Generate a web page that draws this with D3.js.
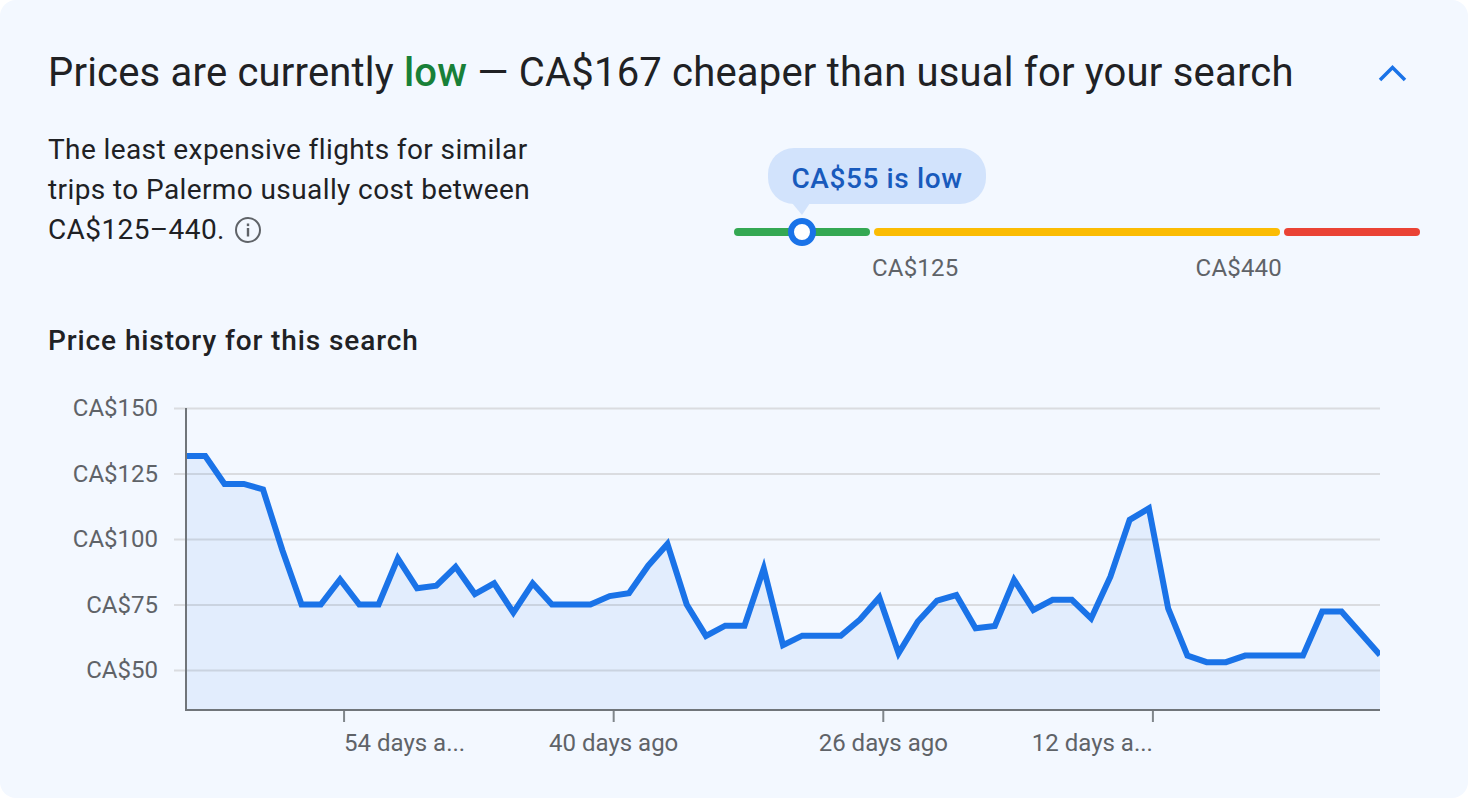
<!doctype html>
<html lang="en">
<head>
  <meta charset="utf-8">
  <title>Price history for this search</title>
  <style>
    html, body { margin:0; padding:0; background:#fff; }
    svg { display:block; }
    text { font-family: Roboto, sans-serif; }
    .axis text { font-size:24px; fill:#5f6368; }
    .axis path { display:none; }
  </style>
</head>
<body>
<div id="chart"></div>
<script src="https://cdn.jsdelivr.net/npm/d3@7"></script>
<script>
// days ago, one point per day
var days = d3.range(62, -1, -1);
var prices = [131.7,131.7,121,121,118.9,95.8,75,75,84.6,75,75,92.6,81.2,82.2,89.4,79,83.1,71.9,83.1,75,75,75,
  78.2,79.3,89.8,98.1,75,63,66.9,66.9,88.8,59.5,63.1,63.1,63.1,69.3,77.7,56.4,68.5,76.5,78.6,65.9,66.8,
  84.4,72.9,76.8,76.8,69.7,85.6,107.3,111.7,73.5,55.5,53,53,55.5,55.5,55.5,55.5,72.3,72.3,64,55.7];
var yTicks = [50,75,100,125,150];
var xTicks = [54,40,26,12];
var xTickLabels = ["54 days a...","40 days ago","26 days ago","12 days a..."];

// range bar
var rangeStops = [-15,125,440,580];
var rangeColors = ["#34a853","#fbbc04","#ea4335"];
var rangeLabels = [125,440];
var currentPrice = 55;

var width = 1468, height = 798;
var svg = d3.select("#chart").append("svg").attr("width",width).attr("height",height);

svg.append("rect").attr("width",width).attr("height",height).attr("rx",16).attr("fill","#f3f8ff");

// header
var title = svg.append("text").attr("x",48).attr("y",86).attr("font-size",40)
  .attr("letter-spacing",0.19).attr("fill","#202124");
title.append("tspan").text("Prices are currently ");
title.append("tspan").attr("fill","#188038").attr("font-weight",500).text("low");
title.append("tspan").text(" \u2014 CA$167 cheaper than usual for your search");

svg.append("path").attr("d","M1380 80 L1392.5 67.5 L1405 80").attr("fill","none")
  .attr("stroke","#1a73e8").attr("stroke-width",3.5);

var intro = ["The least expensive flights for similar","trips to Palermo usually cost between","CA$125\u2013440."];
svg.selectAll("text.intro").data(intro).join("text").attr("class","intro")
  .attr("x",48).attr("y",function(d,i){ return 159 + i*40; })
  .attr("font-size",28).attr("letter-spacing",0.4).attr("fill","#202124").text(function(d){ return d; });

// info icon
var info = svg.append("g").attr("transform","translate(248,230)");
info.append("circle").attr("r",12).attr("fill","none").attr("stroke","#5f6368").attr("stroke-width",2);
info.append("rect").attr("x",-1.2).attr("y",-2).attr("width",2.4).attr("height",8.5).attr("fill","#5f6368");
info.append("rect").attr("x",-1.2).attr("y",-6.5).attr("width",2.4).attr("height",2.6).attr("fill","#5f6368");

// range bar
var xRange = d3.scaleLinear().domain(rangeStops).range([732,872,1282,1422]);
svg.selectAll("rect.band").data(rangeColors).join("rect").attr("class","band")
  .attr("x",function(d,i){ return xRange(rangeStops[i]) + 2; })
  .attr("width",function(d,i){ return xRange(rangeStops[i+1]) - xRange(rangeStops[i]) - 4; })
  .attr("y",228).attr("height",8).attr("rx",4).attr("fill",function(d){ return d; });

svg.selectAll("text.band-label").data(rangeLabels).join("text").attr("class","band-label")
  .attr("x",function(d,i){ return xRange(d); }).attr("y",276)
  .attr("text-anchor",function(d,i){ return i == 0 ? "start" : "end"; })
  .attr("font-size",24).attr("letter-spacing",0.2).attr("fill","#5f6368").text(function(d){ return "CA$" + d; });

var px = xRange(currentPrice);
svg.append("path").attr("fill","#d2e3fc")
  .attr("d","M"+(px-10)+" 203 L"+px+" 215 L"+(px+8)+" 203 Z");
svg.append("rect").attr("x",768).attr("y",148).attr("width",218).attr("height",56).attr("rx",26).attr("fill","#d2e3fc");
svg.append("text").attr("x",877).attr("y",188).attr("text-anchor","middle")
  .attr("font-size",28).attr("letter-spacing",0.6).attr("font-weight",500).attr("fill","#185abc").text("CA$" + currentPrice + " is low");
svg.append("circle").attr("cx",px).attr("cy",232).attr("r",11).attr("fill","#fff")
  .attr("stroke","#1a73e8").attr("stroke-width",6);

svg.append("text").attr("x",48).attr("y",350).attr("font-size",28).attr("letter-spacing",0.9).attr("font-weight",500)
  .attr("fill","#202124").text("Price history for this search");

// price history chart
var left = 186, right = 1380, top_ = 408, bottom = 710;
var x = d3.scaleLinear().domain([62,0]).range([left,right]);
var y = d3.scaleLinear().domain([150,50]).range([top_,670]);
var tickShift = 3.5;

var yAxis = svg.append("g").attr("class","axis").attr("transform","translate("+left+",0)")
  .call(d3.axisLeft(y).tickValues(yTicks).tickFormat(function(d){ return "CA$" + d; }).tickPadding(22));
yAxis.selectAll("line").attr("x1",-12).attr("x2",right-left).attr("stroke","#dadce0").attr("stroke-width",2);

var xAxis = svg.append("g").attr("class","axis").attr("transform","translate("+tickShift+","+bottom+")")
  .call(d3.axisBottom(x).tickValues(xTicks).tickFormat(function(d,i){ return xTickLabels[i]; }).tickSize(12).tickPadding(12));
xAxis.selectAll("line").attr("stroke","#80868b").attr("stroke-width",2);
xAxis.selectAll("text").attr("text-anchor",function(d,i){ return i == 0 ? "start" : i == 3 ? "end" : "middle"; });

var clip = svg.append("clipPath").attr("id","plot").append("rect")
  .attr("x",left).attr("y",top_).attr("width",right-left).attr("height",bottom-top_);

var area = d3.area().x(function(d,i){ return x(days[i]); }).y0(bottom).y1(function(d){ return y(d); });
var line = d3.line().x(function(d,i){ return x(days[i]); }).y(function(d){ return y(d); });

svg.append("path").datum(prices).attr("d",area).attr("fill","#1a73e8").attr("fill-opacity",0.08);
svg.append("path").datum(prices).attr("d",line).attr("fill","none").attr("stroke","#1a73e8")
  .attr("stroke-width",6).attr("clip-path","url(#plot)");

// axis lines on top
svg.append("path").attr("d","M"+left+" "+top_+" V"+bottom+" H"+right).attr("fill","none")
  .attr("stroke","#70757a").attr("stroke-width",2);
</script>
</body>
</html>
